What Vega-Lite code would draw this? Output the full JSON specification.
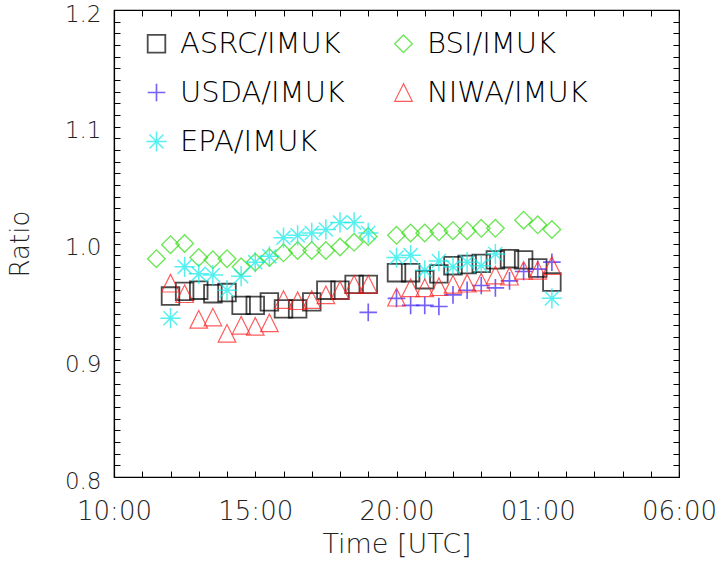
{
  "$schema": "https://vega.github.io/schema/vega-lite/v6.json",
  "width": 565,
  "height": 467,
  "autosize": {"type": "none"},
  "padding": {"left": 114, "top": 10, "right": 45, "bottom": 88},
  "background": "white",
  "config": {"view": {"stroke": "#000", "strokeWidth": 1.2}},
  "data": {
    "values": [
      {"series": "ASRC/IMUK", "hours": 12.0, "ratio": 0.955},
      {"series": "ASRC/IMUK", "hours": 12.5, "ratio": 0.959},
      {"series": "ASRC/IMUK", "hours": 13.0, "ratio": 0.960},
      {"series": "ASRC/IMUK", "hours": 13.5, "ratio": 0.957},
      {"series": "ASRC/IMUK", "hours": 14.0, "ratio": 0.958},
      {"series": "ASRC/IMUK", "hours": 14.5, "ratio": 0.947},
      {"series": "ASRC/IMUK", "hours": 15.0, "ratio": 0.947},
      {"series": "ASRC/IMUK", "hours": 15.5, "ratio": 0.950},
      {"series": "ASRC/IMUK", "hours": 16.0, "ratio": 0.944},
      {"series": "ASRC/IMUK", "hours": 16.5, "ratio": 0.944},
      {"series": "ASRC/IMUK", "hours": 17.0, "ratio": 0.950},
      {"series": "ASRC/IMUK", "hours": 17.5, "ratio": 0.960},
      {"series": "ASRC/IMUK", "hours": 18.0, "ratio": 0.960},
      {"series": "ASRC/IMUK", "hours": 18.5, "ratio": 0.965},
      {"series": "ASRC/IMUK", "hours": 19.0, "ratio": 0.965},
      {"series": "ASRC/IMUK", "hours": 20.0, "ratio": 0.975},
      {"series": "ASRC/IMUK", "hours": 20.5, "ratio": 0.975},
      {"series": "ASRC/IMUK", "hours": 21.0, "ratio": 0.969},
      {"series": "ASRC/IMUK", "hours": 21.5, "ratio": 0.974},
      {"series": "ASRC/IMUK", "hours": 22.0, "ratio": 0.981},
      {"series": "ASRC/IMUK", "hours": 22.5, "ratio": 0.982},
      {"series": "ASRC/IMUK", "hours": 23.0, "ratio": 0.983},
      {"series": "ASRC/IMUK", "hours": 23.5, "ratio": 0.986},
      {"series": "ASRC/IMUK", "hours": 24.0, "ratio": 0.987},
      {"series": "ASRC/IMUK", "hours": 24.5, "ratio": 0.986},
      {"series": "ASRC/IMUK", "hours": 25.0, "ratio": 0.979},
      {"series": "ASRC/IMUK", "hours": 25.5, "ratio": 0.967},
      {"series": "BSI/IMUK", "hours": 11.5, "ratio": 0.987},
      {"series": "BSI/IMUK", "hours": 12.0, "ratio": 0.999},
      {"series": "BSI/IMUK", "hours": 12.5, "ratio": 1.000},
      {"series": "BSI/IMUK", "hours": 13.0, "ratio": 0.988},
      {"series": "BSI/IMUK", "hours": 13.5, "ratio": 0.986},
      {"series": "BSI/IMUK", "hours": 14.0, "ratio": 0.987},
      {"series": "BSI/IMUK", "hours": 14.5, "ratio": 0.980},
      {"series": "BSI/IMUK", "hours": 15.0, "ratio": 0.984},
      {"series": "BSI/IMUK", "hours": 15.5, "ratio": 0.988},
      {"series": "BSI/IMUK", "hours": 16.0, "ratio": 0.992},
      {"series": "BSI/IMUK", "hours": 16.5, "ratio": 0.994},
      {"series": "BSI/IMUK", "hours": 17.0, "ratio": 0.994},
      {"series": "BSI/IMUK", "hours": 17.5, "ratio": 0.994},
      {"series": "BSI/IMUK", "hours": 18.0, "ratio": 0.997},
      {"series": "BSI/IMUK", "hours": 18.5, "ratio": 1.001},
      {"series": "BSI/IMUK", "hours": 19.0, "ratio": 1.006},
      {"series": "BSI/IMUK", "hours": 20.0, "ratio": 1.007},
      {"series": "BSI/IMUK", "hours": 20.5, "ratio": 1.009},
      {"series": "BSI/IMUK", "hours": 21.0, "ratio": 1.009},
      {"series": "BSI/IMUK", "hours": 21.5, "ratio": 1.010},
      {"series": "BSI/IMUK", "hours": 22.0, "ratio": 1.011},
      {"series": "BSI/IMUK", "hours": 22.5, "ratio": 1.011},
      {"series": "BSI/IMUK", "hours": 23.0, "ratio": 1.013},
      {"series": "BSI/IMUK", "hours": 23.5, "ratio": 1.013},
      {"series": "BSI/IMUK", "hours": 24.5, "ratio": 1.020},
      {"series": "BSI/IMUK", "hours": 25.0, "ratio": 1.016},
      {"series": "BSI/IMUK", "hours": 25.5, "ratio": 1.012},
      {"series": "USDA/IMUK", "hours": 19.0, "ratio": 0.941},
      {"series": "USDA/IMUK", "hours": 20.0, "ratio": 0.953},
      {"series": "USDA/IMUK", "hours": 20.5, "ratio": 0.947},
      {"series": "USDA/IMUK", "hours": 21.0, "ratio": 0.947},
      {"series": "USDA/IMUK", "hours": 21.5, "ratio": 0.946},
      {"series": "USDA/IMUK", "hours": 22.0, "ratio": 0.956},
      {"series": "USDA/IMUK", "hours": 22.5, "ratio": 0.960},
      {"series": "USDA/IMUK", "hours": 23.0, "ratio": 0.964},
      {"series": "USDA/IMUK", "hours": 23.5, "ratio": 0.962},
      {"series": "USDA/IMUK", "hours": 24.0, "ratio": 0.968},
      {"series": "USDA/IMUK", "hours": 24.5, "ratio": 0.976},
      {"series": "USDA/IMUK", "hours": 25.0, "ratio": 0.978},
      {"series": "USDA/IMUK", "hours": 25.5, "ratio": 0.984},
      {"series": "EPA/IMUK", "hours": 12.0, "ratio": 0.936},
      {"series": "EPA/IMUK", "hours": 12.5, "ratio": 0.980},
      {"series": "EPA/IMUK", "hours": 13.0, "ratio": 0.974},
      {"series": "EPA/IMUK", "hours": 13.5, "ratio": 0.973},
      {"series": "EPA/IMUK", "hours": 14.0, "ratio": 0.960},
      {"series": "EPA/IMUK", "hours": 14.5, "ratio": 0.972},
      {"series": "EPA/IMUK", "hours": 15.0, "ratio": 0.984},
      {"series": "EPA/IMUK", "hours": 15.5, "ratio": 0.989},
      {"series": "EPA/IMUK", "hours": 16.0, "ratio": 1.005},
      {"series": "EPA/IMUK", "hours": 16.5, "ratio": 1.007},
      {"series": "EPA/IMUK", "hours": 17.0, "ratio": 1.009},
      {"series": "EPA/IMUK", "hours": 17.5, "ratio": 1.012},
      {"series": "EPA/IMUK", "hours": 18.0, "ratio": 1.018},
      {"series": "EPA/IMUK", "hours": 18.5, "ratio": 1.018},
      {"series": "EPA/IMUK", "hours": 19.0, "ratio": 1.009},
      {"series": "EPA/IMUK", "hours": 20.0, "ratio": 0.988},
      {"series": "EPA/IMUK", "hours": 20.5, "ratio": 0.990},
      {"series": "EPA/IMUK", "hours": 21.0, "ratio": 0.977},
      {"series": "EPA/IMUK", "hours": 21.5, "ratio": 0.985},
      {"series": "EPA/IMUK", "hours": 22.0, "ratio": 0.980},
      {"series": "EPA/IMUK", "hours": 22.5, "ratio": 0.984},
      {"series": "EPA/IMUK", "hours": 23.0, "ratio": 0.981},
      {"series": "EPA/IMUK", "hours": 23.5, "ratio": 0.991},
      {"series": "EPA/IMUK", "hours": 25.5, "ratio": 0.953},
      {"series": "NIWA/IMUK", "hours": 12.0, "ratio": 0.966},
      {"series": "NIWA/IMUK", "hours": 12.5, "ratio": 0.957},
      {"series": "NIWA/IMUK", "hours": 13.0, "ratio": 0.935},
      {"series": "NIWA/IMUK", "hours": 13.5, "ratio": 0.937},
      {"series": "NIWA/IMUK", "hours": 14.0, "ratio": 0.923},
      {"series": "NIWA/IMUK", "hours": 14.5, "ratio": 0.930},
      {"series": "NIWA/IMUK", "hours": 15.0, "ratio": 0.929},
      {"series": "NIWA/IMUK", "hours": 15.5, "ratio": 0.932},
      {"series": "NIWA/IMUK", "hours": 16.0, "ratio": 0.952},
      {"series": "NIWA/IMUK", "hours": 16.5, "ratio": 0.951},
      {"series": "NIWA/IMUK", "hours": 17.0, "ratio": 0.952},
      {"series": "NIWA/IMUK", "hours": 17.5, "ratio": 0.956},
      {"series": "NIWA/IMUK", "hours": 18.0, "ratio": 0.960},
      {"series": "NIWA/IMUK", "hours": 18.5, "ratio": 0.965},
      {"series": "NIWA/IMUK", "hours": 19.0, "ratio": 0.965},
      {"series": "NIWA/IMUK", "hours": 20.0, "ratio": 0.954},
      {"series": "NIWA/IMUK", "hours": 20.5, "ratio": 0.962},
      {"series": "NIWA/IMUK", "hours": 21.0, "ratio": 0.962},
      {"series": "NIWA/IMUK", "hours": 21.5, "ratio": 0.963},
      {"series": "NIWA/IMUK", "hours": 22.0, "ratio": 0.965},
      {"series": "NIWA/IMUK", "hours": 22.5, "ratio": 0.966},
      {"series": "NIWA/IMUK", "hours": 23.0, "ratio": 0.967},
      {"series": "NIWA/IMUK", "hours": 23.5, "ratio": 0.973},
      {"series": "NIWA/IMUK", "hours": 24.0, "ratio": 0.972},
      {"series": "NIWA/IMUK", "hours": 24.5, "ratio": 0.977},
      {"series": "NIWA/IMUK", "hours": 25.0, "ratio": 0.977},
      {"series": "NIWA/IMUK", "hours": 25.5, "ratio": 0.981}
    ]
  },
  "mark": {"type": "point", "filled": false, "size": 310},
  "encoding": {
    "x": {
      "field": "hours", "type": "quantitative",
      "scale": {"domain": [10, 30], "nice": false, "zero": false},
      "axis": {
        "orient": "bottom",
        "tickCount": 20,
        "labelExpr": "datum.value % 5 === 0 ? format(datum.value % 24, '02d') + ':00' : ''",
        "labelFont": "DejaVu Sans", "labelFontWeight": 200, "labelColor": "#222",
        "labelFontSize": 26, "labelPadding": 21, "labelOverlap": false, "labelFlush": false,
        "ticks": false,
        "domain": true, "domainColor": "#000", "domainWidth": 1.2,
        "grid": true, "gridColor": "#000", "gridWidth": 1, "gridOpacity": 1, "gridDash": [6, 455, 6, 2000],
        "title": "Time [UTC]", "titleFont": "DejaVu Sans", "titleFontWeight": 200, "titleColor": "#222", "titleFontSize": 27, "titlePadding": 7
      }
    },
    "y": {
      "field": "ratio", "type": "quantitative",
      "scale": {"domain": [0.8, 1.2], "nice": false, "zero": false},
      "axis": {
        "orient": "left",
        "tickCount": 40,
        "labelExpr": "abs(datum.value * 10 - round(datum.value * 10)) < 0.001 ? format(datum.value, '.1f') : ''",
        "labelFont": "DejaVu Sans", "labelFontWeight": 200, "labelColor": "#222",
        "labelFontSize": 23, "labelPadding": 13, "labelOffset": 4, "labelOverlap": false, "labelFlush": false,
        "ticks": false,
        "domain": true, "domainColor": "#000", "domainWidth": 1.2,
        "grid": true, "gridColor": "#000", "gridWidth": 1, "gridOpacity": 1, "gridDash": [6, 553, 6, 2000],
        "title": "Ratio", "titleFont": "DejaVu Sans", "titleFontWeight": 200, "titleColor": "#222", "titleFontSize": 26, "titlePadding": 31
      }
    },
    "color": {
      "field": "series", "type": "nominal",
      "scale": {"domain": ["ASRC/IMUK", "USDA/IMUK", "EPA/IMUK", "BSI/IMUK", "NIWA/IMUK"], "range": ["#000000", "#3b1ff5", "#10eaea", "#2fdc10", "#ff1a1a"]},
      "legend": {
        "orient": "none", "legendX": 28, "legendY": 19, "columns": 2, "title": null, "padding": 0,
        "labelFont": "DejaVu Sans", "labelFontWeight": 200, "labelFontSize": 29, "labelOffset": 9, "labelLimit": 400,
        "symbolSize": 310, "symbolStrokeWidth": 1.3, "symbolFillColor": "transparent",
        "rowPadding": 19, "columnPadding": 44,
        "encode": {"labels": {"update": {"fill": {"signal": "scale('color', datum.value)"}}}}
      }
    },
    "shape": {
      "field": "series", "type": "nominal",
      "scale": {"domain": ["ASRC/IMUK", "USDA/IMUK", "EPA/IMUK", "BSI/IMUK", "NIWA/IMUK"], "range": ["square", "M-1,0L1,0M0,-1L0,1", "M-1.15,0L1.15,0M0,-1.15L0,1.15M-0.8,-0.8L0.8,0.8M-0.8,0.8L0.8,-0.8", "diamond", "M0,-1L-1,1L1,1Z"]}
    },
    "strokeWidth": {
      "field": "series", "type": "nominal", "legend": null,
      "scale": {"domain": ["ASRC/IMUK", "USDA/IMUK", "EPA/IMUK", "BSI/IMUK", "NIWA/IMUK"], "range": [1.8, 1.2, 1.2, 1.2, 1.2]}
    }
  }
}
